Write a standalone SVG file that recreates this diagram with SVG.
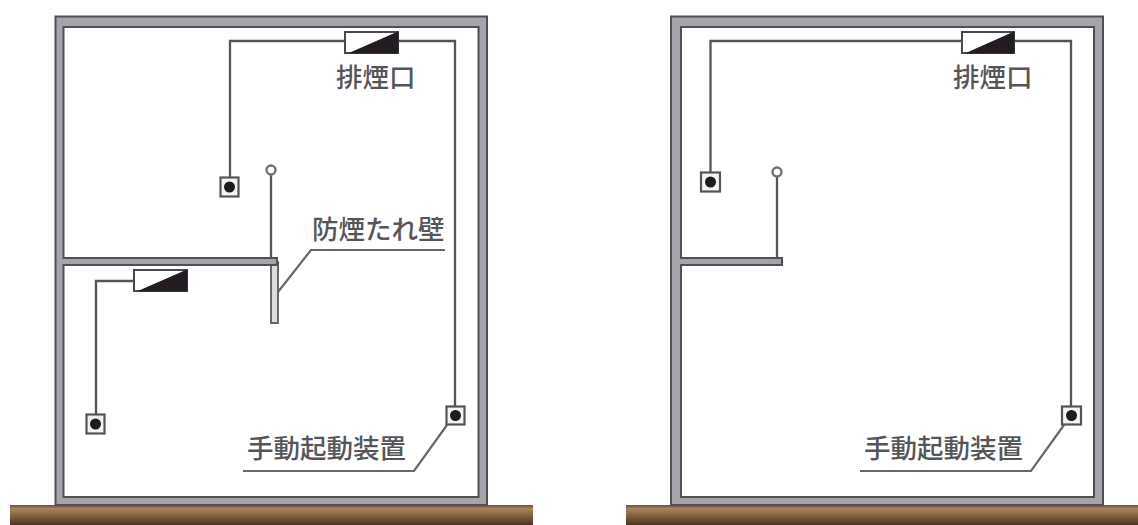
<svg xmlns="http://www.w3.org/2000/svg" width="1138" height="525" viewBox="0 0 1138 525">
<style>
.wall{fill:#a3a5ab;stroke:#4f5054;stroke-width:2;stroke-linejoin:miter}
.hang{fill:#dcdcde;stroke:#66676a;stroke-width:2}
.wire{fill:none;stroke:#545558;stroke-width:2.3}
.lead{fill:none;stroke:#66676a;stroke-width:2.2}
.box{fill:#f4f4f4;stroke:#545558;stroke-width:2.2}
.dot{fill:#1c1a1b}
.ring{fill:#fff;stroke:#707174;stroke-width:2.4}
.dmp{fill:#fff;stroke:#4a4a4c;stroke-width:2}
.tri{fill:#231f20;stroke:#231f20;stroke-width:1}
.lbl{font-family:"Noto Sans CJK JP","Noto Sans",sans-serif;font-size:26.5px;font-weight:500;fill:#56565a}
</style>
<defs>
<linearGradient id="soil" x1="0" y1="0" x2="0" y2="1">
<stop offset="0" stop-color="#6f4d2e"/><stop offset=".18" stop-color="#aa8359"/><stop offset="1" stop-color="#4d3320"/>
</linearGradient>
<filter id="soft" x="-2%" y="-2%" width="104%" height="104%"><feGaussianBlur stdDeviation="0.5"/></filter>
</defs>
<rect width="1138" height="525" fill="#fff"/>
<g filter="url(#soft)">
<g id="ground-left"><rect x="10" y="505" width="523" height="20" fill="url(#soil)"/></g>
<g id="ground-right"><rect x="626" y="505" width="512" height="20" fill="url(#soil)"/></g>
<g id="building-left">
<path class="hang" d="M271 262H278V323H271Z"/>
<path class="wall" fill-rule="evenodd" d="M55.500 505V16.500H487V505ZM63.500 258H277V265H63.500V497H478.500V27H63.500Z"/>
</g>
<g id="building-right">
<path class="wall" fill-rule="evenodd" d="M671 505V16.500H1103V505ZM681 258H782V265H681V497H1094V27H681Z"/>
</g>
<g id="connectors">
<path class="wire" d="M230 186V41H345M398 41H455V406"/>
<path class="wire" d="M133 281H96V414"/>
<path class="wire" d="M271 174V258"/>
<path class="wire" d="M710.500 172V41H962M1014 41H1071V406"/>
<path class="wire" d="M777 176V258"/>
<path class="lead" d="M445 250H311L278 292"/>
<path class="lead" d="M243 471H414L447 425"/>
<path class="lead" d="M860 471H1031L1064 425"/>
</g>
<g id="vent-left-upper"><rect class="dmp" x="345" y="32" width="53" height="21"/><path class="tri" d="M398 32V53H350Z"/></g>
<g id="vent-left-lower"><rect class="dmp" x="134" y="270" width="53" height="21"/><path class="tri" d="M187 270V291H139Z"/></g>
<g id="vent-right"><rect class="dmp" x="962" y="32" width="52" height="21"/><path class="tri" d="M1014 32V53H967Z"/></g>
<g id="switch-1"><rect class="box" x="220.500" y="177.500" width="18" height="19"/><circle class="dot" cx="229.500" cy="187" r="5.500"/></g>
<g id="switch-2"><rect class="box" x="86.500" y="414.500" width="18" height="19"/><circle class="dot" cx="95.500" cy="424" r="5.500"/></g>
<g id="switch-3"><rect class="box" x="446.500" y="406.500" width="18" height="18"/><circle class="dot" cx="455.500" cy="415.500" r="5.500"/></g>
<g id="switch-4"><rect class="box" x="701" y="172.500" width="19" height="19"/><circle class="dot" cx="710.500" cy="182" r="5.500"/></g>
<g id="switch-5"><rect class="box" x="1062" y="406.500" width="19" height="18"/><circle class="dot" cx="1071.500" cy="415.500" r="5.500"/></g>
<g id="pivot-left"><circle class="ring" cx="271" cy="170" r="4.500"/></g>
<g id="pivot-right"><circle class="ring" cx="777" cy="172" r="4.500"/></g>
</g>
<g id="labels">
<text class="lbl" x="336" y="87">排煙口</text>
<text class="lbl" x="953" y="87">排煙口</text>
<text class="lbl" x="312" y="239">防煙たれ壁</text>
<text class="lbl" x="247" y="458">手動起動装置</text>
<text class="lbl" x="864" y="458">手動起動装置</text>
</g>
</svg>
